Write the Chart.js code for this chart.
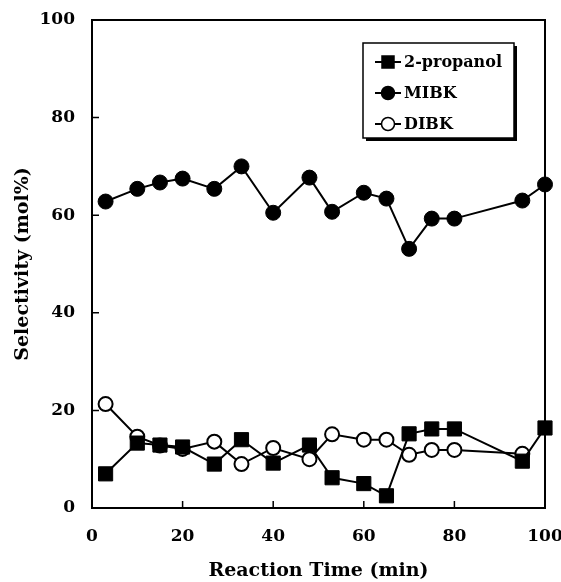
<!DOCTYPE html>
<html>
<head>
<meta charset="utf-8">
<script src="https://cdn.jsdelivr.net/npm/chart.js@4/dist/chart.umd.min.js"></script>
<style>
  html, body { margin: 0; padding: 0; background: #fff; }
  #wrap { width: 561px; height: 582px; }
</style>
</head>
<body>
<div id="wrap"><canvas id="selChart" width="561" height="582"></canvas></div>
<script>
// reaction time (min)
const times = [3, 10, 15, 20, 27, 33, 40, 48, 53, 60, 65, 70, 75, 80, 95, 100];
const propanol = [7, 13.3, 12.9, 12.5, 9, 14, 9.2, 12.9, 6.2, 5, 2.5, 15.2, 16.2, 16.2, 9.6, 16.4];
const mibk = [62.8, 65.4, 66.7, 67.5, 65.4, 70, 60.5, 67.7, 60.7, 64.6, 63.4, 53.1, 59.3, 59.3, 63, 66.3];
const dibk = [21.3, 14.6, 12.8, 12.1, 13.6, 9, 12.3, 10, 15.1, 14, 14, 10.9, 11.9, 11.9, 11.1, null];
const xTicks = [0, 20, 40, 60, 80, 100];
const yTicks = [0, 20, 40, 60, 80, 100];

const serifBold = { family: "'DejaVu Serif', 'Liberation Serif', serif", weight: 'bold' };

function toPoints(ys) {
    return times.map((t, i) => ({ x: t, y: ys[i] }));
}

// frame + inward tick marks
const framePlugin = {
    id: 'frame',
    afterDatasetsDraw(chart) {
        const ctx = chart.ctx;
        const a = chart.chartArea;
        const xs = chart.scales.x, ys = chart.scales.y;
        ctx.save();
        ctx.strokeStyle = '#000';
        ctx.lineWidth = 2;
        ctx.strokeRect(a.left, a.top, a.right - a.left, a.bottom - a.top);
        ctx.lineWidth = 1.5;
        ctx.beginPath();
        yTicks.forEach(v => {
            const py = ys.getPixelForValue(v);
            ctx.moveTo(a.left, py);
            ctx.lineTo(a.left + 7, py);
        });
        xTicks.forEach(v => {
            const px = xs.getPixelForValue(v);
            ctx.moveTo(px, a.bottom);
            ctx.lineTo(px, a.bottom - 7);
        });
        ctx.stroke();
        ctx.restore();
    }
};

// boxed legend with shadow inside the plot
const boxLegend = {
    id: 'boxLegend',
    afterDraw(chart) {
        const ctx = chart.ctx;
        const bx = 363, by = 43, bw = 151, bh = 95;
        ctx.save();
        ctx.fillStyle = '#000';
        ctx.fillRect(bx + 3, by + 3, bw, bh);
        ctx.fillStyle = '#fff';
        ctx.fillRect(bx, by, bw, bh);
        ctx.strokeStyle = '#000';
        ctx.lineWidth = 1.5;
        ctx.strokeRect(bx, by, bw, bh);
        ctx.font = "bold 16px 'DejaVu Serif', 'Liberation Serif', serif";
        ctx.textBaseline = 'middle';
        chart.data.datasets.forEach((ds, i) => {
            const cy = by + 19 + i * 31;
            ctx.strokeStyle = '#000';
            ctx.lineWidth = 2;
            ctx.beginPath();
            ctx.moveTo(bx + 12, cy);
            ctx.lineTo(bx + 38, cy);
            ctx.stroke();
            ctx.fillStyle = ds.pointBackgroundColor;
            ctx.beginPath();
            if (ds.pointStyle === 'rect') {
                ctx.rect(bx + 25 - 6, cy - 6, 12, 12);
            } else {
                ctx.arc(bx + 25, cy, 6.5, 0, Math.PI * 2);
            }
            ctx.fill();
            ctx.lineWidth = 1.5;
            ctx.stroke();
            ctx.fillStyle = '#000';
            ctx.fillText(ds.label, bx + 41, cy + 1);
        });
        ctx.restore();
    }
};

document.addEventListener("DOMContentLoaded", function () {
    const selChart = new Chart(document.getElementById('selChart').getContext('2d'), {
        type: 'line',
        data: {
            datasets: [{
                label: '2-propanol',
                data: toPoints(propanol),
                borderColor: '#000',
                borderWidth: 2,
                pointStyle: 'rect',
                pointRadius: 10,
                pointBackgroundColor: '#000',
                pointBorderColor: '#000',
                pointBorderWidth: 1
            }, {
                label: 'MIBK',
                data: toPoints(mibk),
                borderColor: '#000',
                borderWidth: 2,
                pointStyle: 'circle',
                pointRadius: 7.5,
                pointBackgroundColor: '#000',
                pointBorderColor: '#000',
                pointBorderWidth: 1
            }, {
                label: 'DIBK',
                data: toPoints(dibk),
                borderColor: '#000',
                borderWidth: 2,
                pointStyle: 'circle',
                pointRadius: 7,
                pointBackgroundColor: '#fff',
                pointBorderColor: '#000',
                pointBorderWidth: 2
            }]
        },
        options: {
            responsive: false,
            animation: false,
            clip: false,
            layout: { padding: { left: 0, right: 16, top: 20, bottom: 0 } },
            plugins: { legend: { display: false }, tooltip: { enabled: false } },
            scales: {
                x: {
                    type: 'linear',
                    min: 0,
                    max: 100,
                    afterBuildTicks: s => { s.ticks = xTicks.map(v => ({ value: v })); },
                    afterFit: s => { s.height = 74; s.paddingLeft = 0; s.paddingRight = 0; },
                    grid: { display: false, drawTicks: false },
                    border: { display: false },
                    ticks: { color: '#000', padding: 18, font: { ...serifBold, size: 17 } },
                    title: {
                        display: true,
                        text: 'Reaction Time (min)',
                        color: '#000',
                        padding: { top: 1, bottom: 0 },
                        font: { ...serifBold, size: 19 }
                    }
                },
                y: {
                    min: 0,
                    max: 100,
                    afterBuildTicks: s => { s.ticks = yTicks.map(v => ({ value: v })); },
                    afterFit: s => { s.width = 92; s.paddingTop = 0; s.paddingBottom = 0; },
                    grid: { display: false, drawTicks: false },
                    border: { display: false },
                    ticks: { color: '#000', padding: 17, font: { ...serifBold, size: 17 } },
                    title: {
                        display: true,
                        text: 'Selectivity (mol%)',
                        color: '#000',
                        padding: { top: 12, bottom: 0 },
                        font: { ...serifBold, size: 19 }
                    }
                }
            }
        },
        plugins: [framePlugin, boxLegend]
    });
});
</script>
</body>
</html>
